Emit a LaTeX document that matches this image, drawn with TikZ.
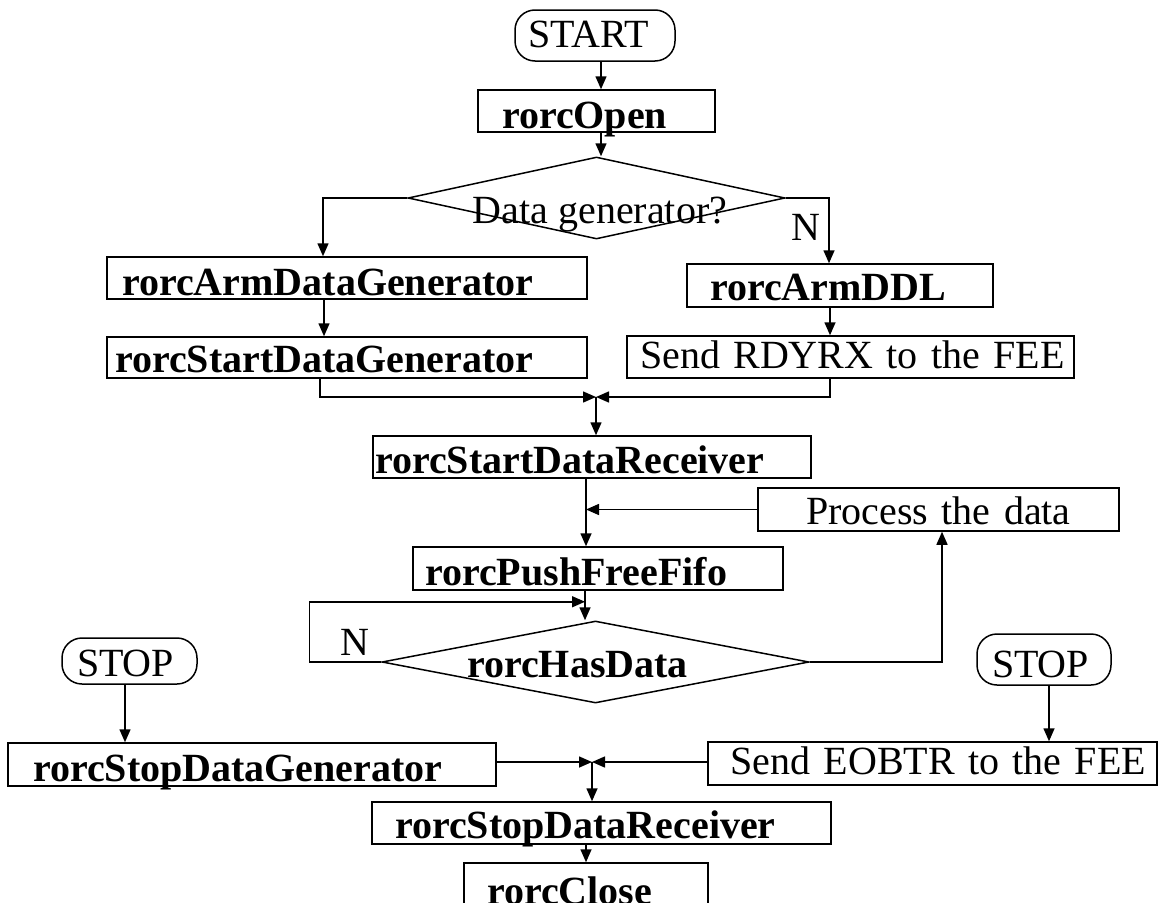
\documentclass[tikz,border=0pt]{standalone}
\usepackage{fontspec}
\setmainfont{Liberation Serif}
\usetikzlibrary{arrows.meta,shapes.geometric}

\newcommand{\dtext}[3]{\raisebox{#1}{\makebox[0pt]{\hspace*{#2}#3}}}

\begin{document}
\begin{tikzpicture}[x=1pt, y=-1pt, line width=1.5pt,
every node/.style={font=\fontsize{40}{48}\selectfont},
bx/.style={font=\fontsize{40}{48}\selectfont\bfseries},
box/.style={draw, inner ysep=0pt, align=left},
term/.style={draw, inner ysep=0pt, align=left, rounded corners=20pt},
dec/.style={draw, diamond, inner sep=0pt, text height=0pt, text depth=0pt},
arr/.style={-{Triangle[length=13pt,width=11pt]}}]
\useasboundingbox (0,0) rectangle (1158,902);
% start and data generator choice
\node[term, text width=134pt, inner xsep=13pt, text height=37pt, text depth=14pt] (start) at (595,35.5) {START};
\node[box, bx, text width=189pt, inner xsep=24pt, text height=38pt, text depth=4pt] (open) at (596.5,111) {rorcOpen};
\node[dec, minimum width=377pt, minimum height=82pt] (datagen) at (596.5,198) {\dtext{-25pt}{7pt}{Data generator?}};
\node[box, bx, text width=450pt, inner xsep=15pt, text height=38pt, text depth=4pt] (armgen) at (347,278) {rorcArmDataGenerator};
\node[box, bx, text width=464pt, inner xsep=8pt, text height=35pt, text depth=6pt] (startgen) at (347,357.5) {rorcStartDataGenerator};
\node[box, bx, text width=260pt, inner xsep=23pt, text height=36pt, text depth=7pt] (armddl) at (840,285.5) {rorcArmDDL};
\node[box, text width=421pt, inner xsep=13pt, text height=32pt, text depth=10pt] (rdyrx) at (850.5,357) {\mbox{Send RDYRX to the FEE}};
\node[anchor=base] (ddln) at (806,240) {N};
% receiving loop
\node[box, bx, text width=434pt, inner xsep=2pt, text height=37pt, text depth=5pt] (startrec) at (592,457) {rorcStartDataReceiver};
\node[box, align=center, text width=341pt, inner xsep=10pt, text height=36pt, text depth=7pt] (process) at (938.5,509.5) {\mbox{Process the data}};
\node[box, bx, text width=346pt, inner xsep=12pt, text height=38pt, text depth=5pt] (pushfifo) at (598,568.5) {rorcPushFreeFifo};
\node[dec, minimum width=427pt, minimum height=82pt] (hasdata) at (595.5,662) {\dtext{-15pt}{-36pt}{\bfseries rorcHasData}};
\node[anchor=base] (loopn) at (355,655) {N};
% stopping
\node[term, text width=105pt, inner xsep=15pt, text height=38pt, text depth=8pt] (stopl) at (129.5,661) {STOP};
\node[term, text width=104pt, inner xsep=15pt, text height=43pt, text depth=8pt] (stopr) at (1044,659.5) {STOP};
\node[box, bx, text width=438pt, inner xsep=25pt, text height=38pt, text depth=5pt] (stopgen) at (252,764.5) {rorcStopDataGenerator};
\node[box, align=right, text width=427pt, inner xsep=11pt, text height=32pt, text depth=11pt] (eobtr) at (932.5,763.5) {\mbox{Send EOBTR to the FEE}};
\node[box, bx, text width=413pt, inner xsep=23pt, text height=36pt, text depth=6pt] (stoprec) at (601.5,823) {rorcStopDataReceiver};
\node[box, bx, text width=198pt, inner xsep=23pt, text height=41pt, text depth=8pt] (close) at (586,887.5) {rorcClose};
\coordinate (jn1) at (596,397);
\coordinate (jn2) at (592,762);
% connectors
\draw[arr] ([xshift=6pt]start.south) -- ([xshift=4.5pt]open.north);
\draw[arr] ([xshift=4.5pt]open.south) -- ([xshift=4.5pt]datagen.north);
\draw[arr] (datagen.west) -| ([xshift=-24pt]armgen.north);
\draw[arr] (datagen.east) -| ([xshift=-11pt]armddl.north);
\draw[arr] ([xshift=-23pt]armgen.south) -- ([xshift=-23pt]startgen.north);
\draw[arr] ([xshift=-10pt]armddl.south) -- ([xshift=-20.5pt]rdyrx.north);
\draw[arr] ([xshift=-27pt]startgen.south) |- (jn1);
\draw[arr] ([xshift=-20.5pt]rdyrx.south) |- (jn1);
\draw[arr] (jn1) -- ([xshift=4pt]startrec.north);
\draw[arr] ([xshift=-6pt]startrec.south) -- ([xshift=-12pt]pushfifo.north);
\draw[arr] (process.west) -- ([xshift=-6pt]startrec.south |- process.west);
\draw[arr] ([xshift=-13pt]pushfifo.south) -- ([xshift=-10.5pt]hasdata.north);
\draw[arr] (hasdata.west) -- ++(-72,0) |- ([xshift=-13pt,yshift=-11pt]pushfifo.south);
\draw[arr] (hasdata.east) -| ([xshift=3.5pt]process.south);
\draw[arr] ([xshift=-4.5pt]stopl.south) -- ([xshift=-127pt]stopgen.north);
\draw[arr] ([xshift=5pt]stopr.south) -- ([xshift=116.5pt]eobtr.north);
\draw[arr] (stopgen.east |- jn2) -- (jn2);
\draw[arr] (eobtr.west |- jn2) -- (jn2);
\draw[arr] (jn2) -- (stoprec.north -| jn2);
\draw[arr] ([xshift=-15.5pt]stoprec.south) -- (close.north);
\end{tikzpicture}
\end{document}
